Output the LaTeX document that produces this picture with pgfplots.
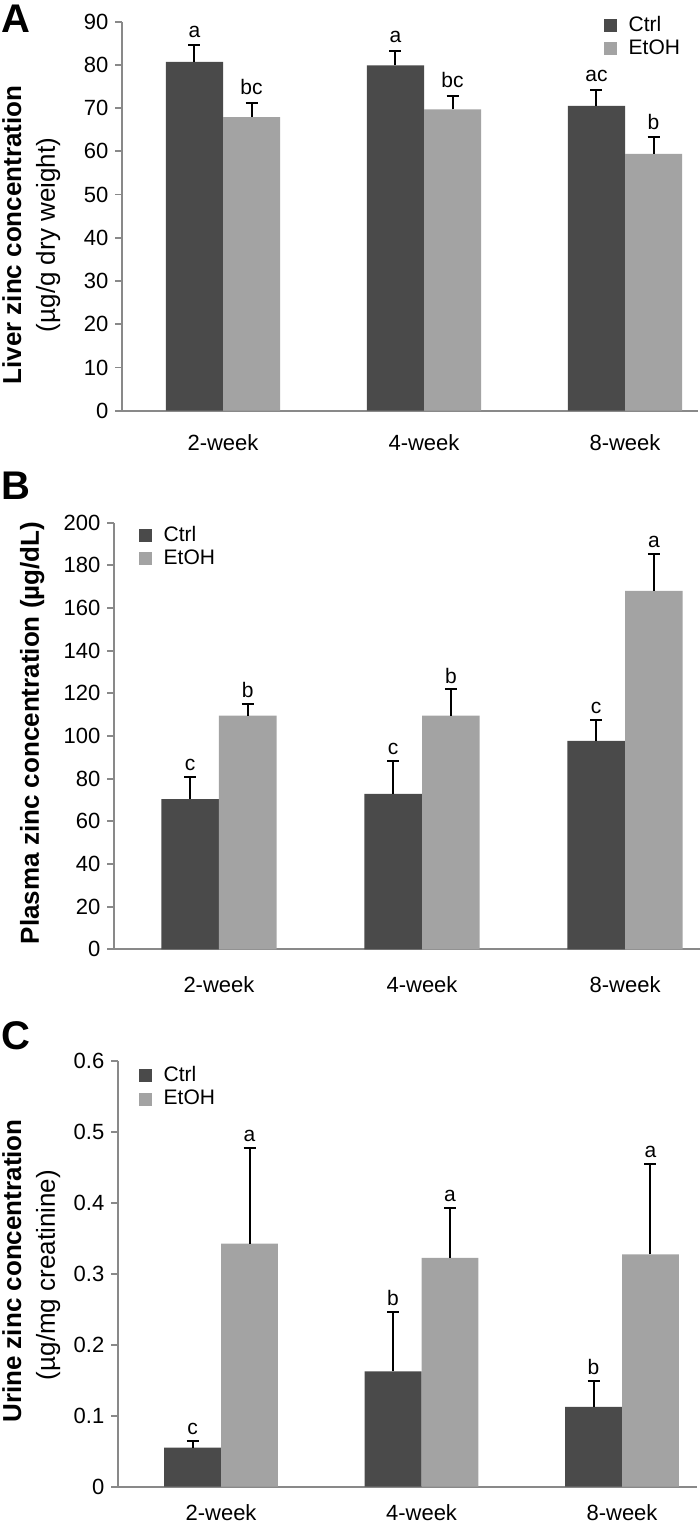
\documentclass[border=0pt]{standalone}
\usepackage{pgfplots}
\pgfplotsset{compat=1.18}
\usepackage{fontspec}
\setmainfont{Liberation Sans}
\definecolor{ctrl}{RGB}{74,74,74}
\definecolor{etoh}{RGB}{163,163,163}
\definecolor{axg}{RGB}{137,137,137}
\pgfplotsset{
  ybar legend/.style={legend image code/.code={\fill[##1,draw=none] (0pt,-3.25pt) rectangle (6.5pt,3.25pt);}},
  zbase/.style={
    scale only axis,
    ybar, bar shift=0pt, bar width=0.284,
    axis lines=left,
    axis line style={-, draw=axg, line width=0.9pt},
    tick align=outside,
    major tick length=3.3pt,
    ytick style={draw=axg, line width=0.9pt},
    xtick style={draw=none},
    xtick={0,1,2},
    xticklabels={2-week,4-week,8-week},
    tick label style={font=\fontsize{11}{13}\selectfont},
    /pgf/number format/assume math mode=true,
    legend cell align=left,
    legend style={draw=none, fill=none, inner sep=0pt, row sep=2.7pt, column sep=5.65pt,
      nodes={inner sep=0pt}, font=\fontsize{10.5}{12}\selectfont},
    error bars/y dir=plus, error bars/y explicit,
    error bars/error bar style={draw=black, line width=1pt},
    error bars/error mark options={draw=black, line width=1pt, mark size=3pt, rotate=90},
    clip=false,
  },
}
\tikzset{
  lbl/.style={anchor=base, font=\fontsize{10.5}{12}\selectfont, inner sep=0pt, yshift=#1},
  lbl/.default=3.2pt,
}
\begin{document}
\begin{tikzpicture}
\useasboundingbox (0pt,0pt) rectangle (350pt,762.5pt);
% ---------------- Panel A ----------------
\begin{axis}[zbase, at={(61pt,557.15pt)}, anchor=south west,
  width=288pt, height=194.5pt,
  xmin=-0.5025, xmax=2.3632, ymin=0, ymax=90, ytick={0,10,...,90},
  legend style={at={(0.8368,1.0146)}, anchor=north west},
  xticklabel style={yshift=-4.9pt}]
\addplot[fill=ctrl, draw=none] coordinates {(-0.142,80.7) +- (0,3.9) (0.858,79.9) +- (0,3.4) (1.858,70.5) +- (0,3.7)};
\addplot[fill=etoh, draw=none] coordinates {(0.142,67.9) +- (0,3.4) (1.142,69.7) +- (0,3.2) (2.142,59.4) +- (0,3.9)};
\legend{Ctrl,EtOH}
\node[lbl=4pt] at (axis cs:-0.142,84.6) {a};
\node[lbl=4pt] at (axis cs:0.142,71.3) {bc};
\node[lbl=4pt] at (axis cs:0.858,83.3) {a};
\node[lbl=4pt] at (axis cs:1.142,72.9) {bc};
\node[lbl=4pt] at (axis cs:1.858,74.2) {ac};
\node[lbl=4pt] at (axis cs:2.142,63.3) {b};
\end{axis}
% ---------------- Panel B ----------------
\begin{axis}[zbase, at={(57pt,287.85pt)}, anchor=south west,
  width=293pt, height=213.3pt,
  xmin=-0.517, xmax=2.369, ymin=0, ymax=200, ytick={0,20,...,200},
  legend style={at={(0.0427,0.9923)}, anchor=north west},
  xticklabel style={yshift=-6.6pt}]
\addplot[fill=ctrl, draw=none] coordinates {(-0.142,70.4) +- (0,10.6) (0.858,72.9) +- (0,15.6) (1.858,97.7) +- (0,10.0)};
\addplot[fill=etoh, draw=none] coordinates {(0.142,109.6) +- (0,5.6) (1.142,109.6) +- (0,12.2) (2.142,168.0) +- (0,17.2)};
\legend{Ctrl,EtOH}
\node[lbl] at (axis cs:-0.142,81.0) {c};
\node[lbl] at (axis cs:0.142,115.2) {b};
\node[lbl] at (axis cs:0.858,88.5) {c};
\node[lbl] at (axis cs:1.142,121.8) {b};
\node[lbl] at (axis cs:1.858,107.7) {c};
\node[lbl] at (axis cs:2.142,185.2) {a};
\end{axis}
% ---------------- Panel C ----------------
\begin{axis}[zbase, at={(59pt,19.15pt)}, anchor=south west,
  width=289.5pt, height=212.85pt,
  xmin=-0.514, xmax=2.374, ymin=0, ymax=0.6, ytick={0,0.1,...,0.6},
  yticklabel style={/pgf/number format/fixed, /pgf/number format/precision=1},
  legend style={at={(0.0363,0.9876)}, anchor=north west},
  xticklabel style={yshift=-2.3pt}]
\addplot[fill=ctrl, draw=none] coordinates {(-0.142,0.055) +- (0,0.009) (0.858,0.1625) +- (0,0.084) (1.858,0.1126) +- (0,0.037)};
\addplot[fill=etoh, draw=none] coordinates {(0.142,0.3427) +- (0,0.135) (1.142,0.3225) +- (0,0.070) (2.142,0.3273) +- (0,0.1275)};
\legend{Ctrl,EtOH}
\node[lbl] at (axis cs:-0.142,0.064) {c};
\node[lbl] at (axis cs:0.142,0.4777) {a};
\node[lbl] at (axis cs:0.858,0.2465) {b};
\node[lbl] at (axis cs:1.142,0.3925) {a};
\node[lbl] at (axis cs:1.858,0.1496) {b};
\node[lbl] at (axis cs:2.142,0.4548) {a};
\end{axis}
% ---------------- labels ----------------
\node[anchor=base west, inner sep=0pt, font=\fontsize{20}{24}\selectfont\bfseries] at (0.5pt,746pt) {A};
\node[anchor=base west, inner sep=0pt, font=\fontsize{20}{24}\selectfont\bfseries] at (0.5pt,512.5pt) {B};
\node[anchor=base west, inner sep=0pt, font=\fontsize{20}{24}\selectfont\bfseries] at (0.5pt,237.8pt) {C};
\node[rotate=90, anchor=base, inner sep=0pt, font=\fontsize{13}{15}\selectfont\bfseries] at (10.5pt,645pt) {Liver zinc concentration};
\node[rotate=90, anchor=base, inner sep=0pt, font=\fontsize{13}{15}\selectfont] at (27.5pt,645pt) {(µg/g dry weight)};
\node[rotate=90, anchor=base, inner sep=0pt, font=\fontsize{13}{15}\selectfont\bfseries] at (19.5pt,396pt) {Plasma zinc concentration (µg/dL)};
\node[rotate=90, anchor=base, inner sep=0pt, font=\fontsize{13}{15}\selectfont\bfseries] at (10.5pt,127pt) {Urine zinc concentration};
\node[rotate=90, anchor=base, inner sep=0pt, font=\fontsize{13}{15}\selectfont] at (27.5pt,125pt) {(µg/mg creatinine)};
\end{tikzpicture}
\end{document}
